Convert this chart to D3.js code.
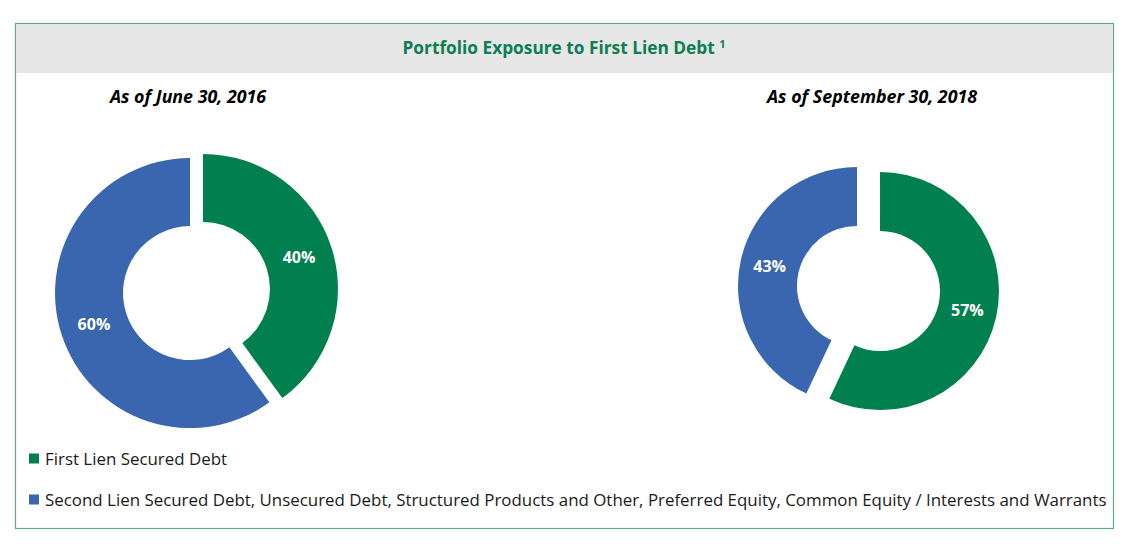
<!DOCTYPE html>
<html>
<head>
<meta charset="utf-8">
<script src="https://cdn.jsdelivr.net/npm/d3@7/dist/d3.min.js"></script>
<style>
  html, body { margin: 0; padding: 0; background: #ffffff; }
  svg { display: block; }
</style>
</head>
<body>
<svg id="chart" width="1127" height="544"></svg>
<script>
// ---- Data ----
const title = "Portfolio Exposure to First Lien Debt";
const titleNote = "1";
const categories = [
  "First Lien Secured Debt",
  "Second Lien Secured Debt, Unsecured Debt, Structured Products and Other, Preferred Equity, Common Equity / Interests and Warrants"
];
const periods = ["As of June 30, 2016", "As of September 30, 2018"];
const values2016 = [40, 60];
const values2018 = [57, 43];
const colors = ["#00804F", "#3A66B0"];

// ---- Layout ----
const W = 1127, H = 544;
const svg = d3.select("#chart");
const font = "'Open Sans', 'Noto Sans', sans-serif";

// frame
svg.append("rect").attr("x", 15.5).attr("y", 23.5).attr("width", 1098).attr("height", 505)
  .attr("fill", "#ffffff").attr("stroke", "#5EA98A").attr("stroke-width", 1.2);
svg.append("rect").attr("x", 16).attr("y", 24).attr("width", 1097).attr("height", 49)
  .attr("fill", "#E7E7E7");

const t = svg.append("text").attr("x", 564).attr("y", 54)
  .attr("text-anchor", "middle").attr("font-family", font).attr("font-weight", 700)
  .attr("font-size", 17.3).attr("fill", "#0B7E52");
t.append("tspan").text(title + " ");
t.append("tspan").text(titleNote).attr("font-size", 11).attr("dy", -6);

const charts = [
  { label: periods[0], values: values2016, cx: 196.5, cy: 291, r: 135, ir: 67, explode: 6.8, tx: 188, ty: 103 },
  { label: periods[1], values: values2018, cx: 868.5, cy: 288.5, r: 119, ir: 60, explode: 11.8, tx: 872, ty: 103 }
];

const pie = d3.pie().sort(null).value(d => d).startAngle(0).endAngle(2 * Math.PI);

charts.forEach(c => {
  svg.append("text").attr("x", c.tx).attr("y", c.ty).attr("text-anchor", "middle")
    .attr("font-family", font).attr("font-weight", 700).attr("font-style", "italic")
    .attr("font-size", 17.8).attr("fill", "#000").text(c.label);

  const arc = d3.arc().innerRadius(c.ir).outerRadius(c.r);
  const g = svg.append("g").attr("transform", `translate(${c.cx},${c.cy})`);
  const arcs = pie(c.values);
  const slice = g.selectAll("g.slice").data(arcs).enter().append("g")
    .attr("transform", d => {
      const a = (d.startAngle + d.endAngle) / 2;
      return `translate(${c.explode * Math.sin(a)},${-c.explode * Math.cos(a)})`;
    });
  slice.append("path").attr("d", arc).attr("fill", (d, i) => colors[i]);
  slice.append("text")
    .attr("transform", d => `translate(${arc.centroid(d)})`)
    .attr("text-anchor", "middle").attr("dy", "0.35em")
    .attr("font-family", font).attr("font-weight", 700).attr("font-size", 16)
    .attr("fill", "#ffffff").text(d => d.data + "%");
});

// legend
const legendY = [459, 500];
categories.forEach((cat, i) => {
  svg.append("rect").attr("x", 29).attr("y", legendY[i] - 5.5).attr("width", 10).attr("height", 10)
    .attr("fill", colors[i]);
  svg.append("text").attr("x", 45).attr("y", legendY[i]).attr("dy", "0.35em")
    .attr("font-family", font).attr("font-size", 16.9).attr("fill", "#1a1a1a").text(cat);
});
</script>
</body>
</html>
